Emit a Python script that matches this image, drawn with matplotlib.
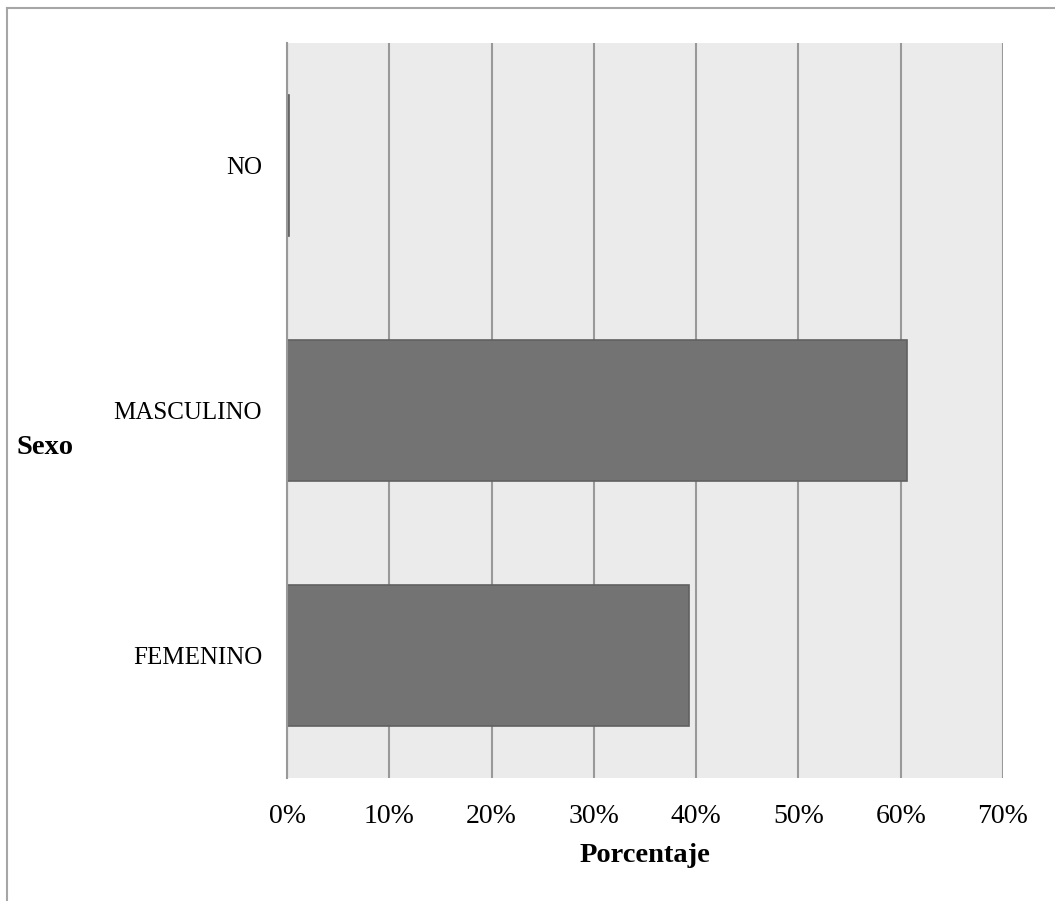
import matplotlib.pyplot as plt
from matplotlib.lines import Line2D
from matplotlib.ticker import FuncFormatter

# porcentaje por sexo
categorias = ["FEMENINO", "MASCULINO", "NO"]
porcentajes = [39.3, 60.6, 0.2]
ticks_x = [0, 10, 20, 30, 40, 50, 60, 70]

plt.rcParams['font.family'] = ['Liberation Serif', 'DejaVu Serif']

fig = plt.figure(figsize=(10.55, 9.01), dpi=100)
ax = fig.add_axes([287 / 1055, 123 / 901, 716 / 1055, 735 / 901])

ax.set_facecolor('#ebebeb')
ax.barh(categorias, porcentajes, height=0.575, color='#737373',
        edgecolor='#606060', linewidth=1.2, zorder=3)

ax.set_xlim(0, 70)
ax.set_ylim(-0.5, 2.5)
ax.set_xticks(ticks_x)
ax.xaxis.set_major_formatter(FuncFormatter(lambda v, p: f"{v:.0f}%"))
ax.grid(axis='x', color='#999999', linewidth=1.5, zorder=1)
ax.set_axisbelow(True)

for s in ['top', 'right', 'bottom']:
    ax.spines[s].set_visible(False)
ax.spines['left'].set_color('#999999')
ax.spines['left'].set_linewidth(1.5)
ax.spines['left'].set_zorder(4)

ax.tick_params(axis='x', length=0, pad=19, labelsize=20)
ax.tick_params(axis='y', length=0, pad=18, labelsize=18)

fig.text(645 / 1055, 1 - 855 / 901, "Porcentaje", ha='center', va='center',
         fontsize=20.5, fontweight='bold')
fig.text(16 / 1055, 1 - 448 / 901, "Sexo", ha='left', va='center',
         fontsize=20.5, fontweight='bold')

# marco exterior (solo arriba e izquierda)
fig.add_artist(Line2D([7 / 1055, 7 / 1055], [0, 1 - 8 / 901],
                      transform=fig.transFigure, color='#a6a6a6', linewidth=1.5))
fig.add_artist(Line2D([7 / 1055, 1], [1 - 8 / 901, 1 - 8 / 901],
                      transform=fig.transFigure, color='#a6a6a6', linewidth=1.5))

fig.savefig('out.png', dpi=100)
